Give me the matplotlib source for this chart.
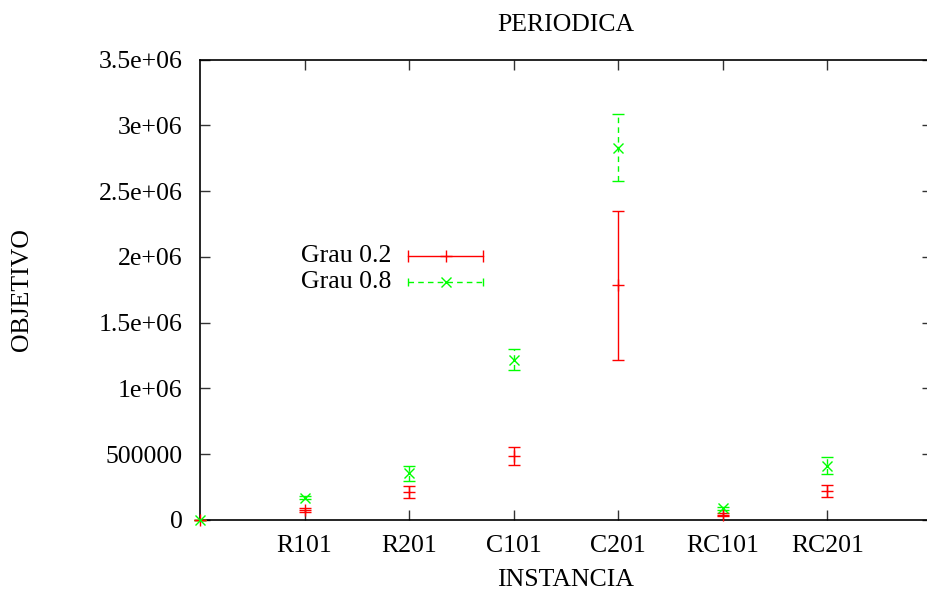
import numpy as np
import matplotlib
matplotlib.use("Agg")
import matplotlib.pyplot as plt

# data (gnuplot-style error bars)
instancias = ["R101", "R201", "C101", "C201", "RC101", "RC201"]
xpos = [0, 1, 2, 3, 4, 5, 6]

grau02 = [0, 76000, 212000, 488000, 1785000, 40000, 222000]
grau02_err = [0, 12000, 45000, 70000, 567000, 12000, 45000]

grau08 = [0, 170000, 355000, 1218000, 2830000, 89000, 412000]
grau08_err = [0, 14000, 57000, 81000, 256000, 12000, 65000]

yticks = [0, 500000, 1000000, 1500000, 2000000, 2500000, 3000000, 3500000]
ytick_labels = ["0", "500000", "1e+06", "1.5e+06", "2e+06", "2.5e+06", "3e+06", "3.5e+06"]

plt.rcParams["font.family"] = ["Liberation Serif", "DejaVu Serif"]
fs = 18.5

fig = plt.figure(figsize=(9.27, 5.90), dpi=100)
# axes spans x 200..932 px, y 59.5..520 px
ax = fig.add_axes([200 / 927, 70 / 590, 732 / 927, 460.5 / 590])

red = "#ff0000"
green = "#00ff00"

e1 = ax.errorbar(xpos, grau02, yerr=grau02_err, fmt="+", color=red, ms=8, mew=1,
                 elinewidth=1, capsize=4, capthick=1, clip_on=False, zorder=3)
e2 = ax.errorbar(xpos, grau08, yerr=grau08_err, fmt="x", color=green, ms=7.5, mew=1,
                 elinewidth=1, capsize=4, capthick=1, clip_on=False, zorder=3)
for lc in e2[2]:
    lc.set_linestyle((0, (4, 3)))

ax.set_xlim(0, 7)
ax.set_ylim(0, 3500000)
ax.set_xticks(xpos[1:])
ax.set_xticklabels(instancias, fontsize=fs)
ax.set_yticks(yticks)
ax.set_yticklabels(ytick_labels, fontsize=fs)
ax.tick_params(direction="in", length=7, width=1, top=True, right=True, color="#333333")
ax.tick_params(axis="y", pad=12.5)
ax.tick_params(axis="x", pad=11)
for sp in ax.spines.values():
    sp.set_linewidth(1.2)

# gnuplot-like key
ax.text(0.261, 0.573, "Grau 0.2", transform=ax.transAxes, ha="right", va="center", fontsize=fs)
ax.text(0.261, 0.517, "Grau 0.8", transform=ax.transAxes, ha="right", va="center", fontsize=fs)
ax.plot([0.284, 0.387], [0.573, 0.573], transform=ax.transAxes, color=red, lw=1)
ax.plot([0.284, 0.387], [0.573, 0.573], transform=ax.transAxes, color=red, ls="none", marker="|", ms=8)
ax.plot([0.336], [0.573], transform=ax.transAxes, color=red, marker="+", ms=8)
ax.plot([0.284, 0.387], [0.517, 0.517], transform=ax.transAxes, color=green, lw=1, ls=(0, (4, 3)))
ax.plot([0.284, 0.387], [0.517, 0.517], transform=ax.transAxes, color=green, ls="none", marker="|", ms=6)
ax.plot([0.336], [0.517], transform=ax.transAxes, color=green, marker="x", ms=7.5)

fig.text(566 / 927, 1 - 25 / 590, "PERIODICA", ha="center", va="center", fontsize=fs)
fig.text(566 / 927, 1 - 580 / 590, "INSTANCIA", ha="center", va="center", fontsize=fs)
fig.text(22 / 927, 1 - 290 / 590, "OBJETIVO", ha="center", va="center", rotation=90, fontsize=fs)

fig.savefig("out.png", dpi=100)
